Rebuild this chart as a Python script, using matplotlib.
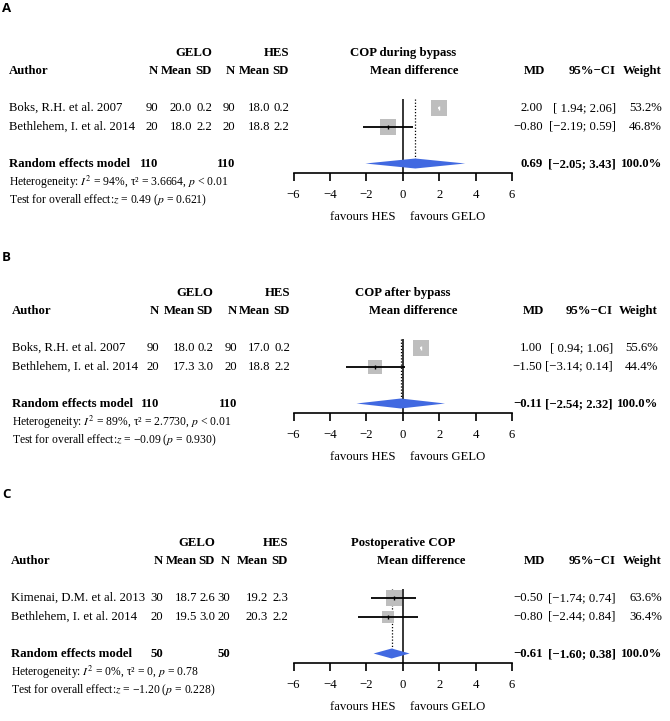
import matplotlib
matplotlib.use('Agg')
import matplotlib.pyplot as plt
import numpy as np

plt.rcParams['font.family'] = ['Liberation Serif', 'DejaVu Serif']
plt.rcParams['mathtext.fontset'] = 'stix'

W, H = 670, 721

# ---- panel A: COP during bypass
authors_a = ['Boks, R.H. et al. 2007', 'Bethlehem, I. et al. 2014']
gelo_n_a = [90, 20]
gelo_mean_a = [20.0, 18.0]
gelo_sd_a = [0.2, 2.2]
hes_n_a = [90, 20]
hes_mean_a = [18.0, 18.8]
hes_sd_a = [0.2, 2.2]
md_a = [2.00, -0.80]
lo_a = [1.94, -2.19]
hi_a = [2.06, 0.59]
weight_a = [53.2, 46.8]
pooled_a = [0.69, -2.05, 3.43]
totals_a = [110, 110]
het_a = r'Heterogeneity: $I^2$ = 94%, τ² = 3.6664, $p$ < 0.01'
test_a = r'Test for overall effect:$z$ = 0.49 ($p$ = 0.621)'

# ---- panel B: COP after bypass
authors_b = ['Boks, R.H. et al. 2007', 'Bethlehem, I. et al. 2014']
gelo_n_b = [90, 20]
gelo_mean_b = [18.0, 17.3]
gelo_sd_b = [0.2, 3.0]
hes_n_b = [90, 20]
hes_mean_b = [17.0, 18.8]
hes_sd_b = [0.2, 2.2]
md_b = [1.00, -1.50]
lo_b = [0.94, -3.14]
hi_b = [1.06, 0.14]
weight_b = [55.6, 44.4]
pooled_b = [-0.11, -2.54, 2.32]
totals_b = [110, 110]
het_b = r'Heterogeneity: $I^2$ = 89%, τ² = 2.7730, $p$ < 0.01'
test_b = r'Test for overall effect:$z$ = −0.09 ($p$ = 0.930)'

# ---- panel C: postoperative COP
authors_c = ['Kimenai, D.M. et al. 2013', 'Bethlehem, I. et al. 2014']
gelo_n_c = [30, 20]
gelo_mean_c = [18.7, 19.5]
gelo_sd_c = [2.6, 3.0]
hes_n_c = [30, 20]
hes_mean_c = [19.2, 20.3]
hes_sd_c = [2.3, 2.2]
md_c = [-0.50, -0.80]
lo_c = [-1.74, -2.44]
hi_c = [0.74, 0.84]
weight_c = [63.6, 36.4]
pooled_c = [-0.61, -1.60, 0.38]
totals_c = [50, 50]
het_c = r'Heterogeneity: $I^2$ = 0%, τ² = 0, $p$ = 0.78'
test_c = r'Test for overall effect:$z$ = −1.20 ($p$ = 0.228)'

titles = ['COP during bypass', 'COP after bypass', 'Postoperative COP']
labels = ['A', 'B', 'C']
xticks = [-6, -4, -2, 0, 2, 4, 6]

panels = [
    dict(authors=authors_a, gn=gelo_n_a, gm=gelo_mean_a, gs=gelo_sd_a, hn=hes_n_a, hm=hes_mean_a, hs=hes_sd_a,
         md=md_a, lo=lo_a, hi=hi_a, w=weight_a, pooled=pooled_a, tot=totals_a, het=het_a, test=test_a),
    dict(authors=authors_b, gn=gelo_n_b, gm=gelo_mean_b, gs=gelo_sd_b, hn=hes_n_b, hm=hes_mean_b, hs=hes_sd_b,
         md=md_b, lo=lo_b, hi=hi_b, w=weight_b, pooled=pooled_b, tot=totals_b, het=het_b, test=test_b),
    dict(authors=authors_c, gn=gelo_n_c, gm=gelo_mean_c, gs=gelo_sd_c, hn=hes_n_c, hm=hes_mean_c, hs=hes_sd_c,
         md=md_c, lo=lo_c, hi=hi_c, w=weight_c, pooled=pooled_c, tot=totals_c, het=het_c, test=test_c),
]

# layout (pixels)
dy = [0, 240, 490]
label_y = [8, 257, 495]
left_cols = [
    [9, 158, 192, 212, 235, 270, 289],
    [12, 159, 195, 213, 237, 270, 290],
    [11, 163, 197, 215, 230, 268, 288],
]
right_cols = [
    [543, 616, 662],
    [542, 613, 658],
    [543, 616, 662],
]
mdlab_x = [414, 413, 421]

FS = 9.2
FS_SMALL = 8.4
SQ_GRAY = '#bebebe'
DIAMOND = '#4169e1'


def fx(x):
    return x / W


def fy(y):
    return 1 - y / H


def neg(s):
    return s.replace('-', '\u2212')


def put(x, y, s, ha='left', bold=False, size=FS, **kw):
    fig.text(fx(x), fy(y), s, ha=ha, va='center', fontsize=size,
             fontweight='bold' if bold else 'normal', **kw)


fig = plt.figure(figsize=(6.7, 7.21), dpi=100)

for k, p in enumerate(panels):
    o = dy[k]
    c = left_cols[k]
    r = right_cols[k]

    fig.text(fx(2), fy(label_y[k]), labels[k], ha='left', va='center', fontsize=9.5,
             fontweight='bold', family=['Open Sans', 'DejaVu Sans'])

    # left table headers
    put(c[3], 53 + o, 'GELO', ha='right', bold=True)
    put(c[6], 53 + o, 'HES', ha='right', bold=True)
    put(c[0], 71 + o, 'Author', bold=True)
    for xi, t in zip(c[1:], ['N', 'Mean', 'SD', 'N', 'Mean', 'SD']):
        put(xi, 71 + o, t, ha='right', bold=True)

    # right headers
    put(403, 53 + o, titles[k], ha='center', bold=True)
    put(mdlab_x[k], 71 + o, 'Mean difference', ha='center', bold=True)
    put(r[0] + 2, 71 + o, 'MD', ha='right', bold=True)
    put(r[1], 71 + o, '95%\u2212CI', ha='right', bold=True)
    put(r[2], 71 + o, 'Weight', ha='right', bold=True)

    # study rows
    for i in range(len(p['authors'])):
        y = 108 + i * 18.5 + o
        put(c[0], y, p['authors'][i])
        vals = [str(p['gn'][i]), f"{p['gm'][i]:.1f}", f"{p['gs'][i]:.1f}",
                str(p['hn'][i]), f"{p['hm'][i]:.1f}", f"{p['hs'][i]:.1f}"]
        for xi, t in zip(c[1:], vals):
            put(xi, y, t, ha='right')
        put(r[0], y, neg(f"{p['md'][i]:.2f}"), ha='right')
        put(r[1], y, neg(f"[{p['lo'][i]:5.2f}; {p['hi'][i]:.2f}]"), ha='right')
        put(r[2], y, f"{p['w'][i]:.1f}%", ha='right')

    # pooled row
    y = 164 + o
    put(c[0], y, 'Random effects model', bold=True)
    put(c[1], y, str(p['tot'][0]), ha='right', bold=True)
    put(c[4], y, str(p['tot'][1]), ha='right', bold=True)
    est, plo, phi = p['pooled']
    put(r[0], y, neg(f"{est:.2f}"), ha='right', bold=True)
    put(r[1], y, neg(f"[{plo:.2f}; {phi:.2f}]"), ha='right', bold=True)
    put(r[2], y, '100.0%', ha='right', bold=True)
    put(c[0], 182 + o, p['het'], size=FS_SMALL)
    put(c[0], 200 + o, p['test'], size=FS_SMALL)

    # forest axes: rows 1,2 studies, row 4 pooled, axis at 4.5
    top_px = 108 - 0.5 * 18.5 + o
    bot_px = 108 + 3.5 * 18.5 + o
    ax = fig.add_axes([fx(293.5), fy(bot_px), (512 - 293.5) / W, (bot_px - top_px) / H])
    ax.set_xlim(-6, 6)
    ax.set_ylim(4.5, 0.5)
    ax.patch.set_alpha(0)
    for s in ['top', 'right', 'left']:
        ax.spines[s].set_visible(False)
    ax.spines['bottom'].set_linewidth(1.2)
    ax.set_yticks([])
    ax.set_xticks(xticks)
    ax.tick_params(axis='x', length=5.5, width=1.2, pad=6.5, labelsize=FS)

    ax.vlines(0, 0.5, 4.5, color='black', lw=1.1, zorder=2)
    h = 0.27
    ax.vlines(est, 0.5, 4 - h, color='black', lw=0.9, linestyles=(0, (1, 1.5)), zorder=2)

    ppu = (512 - 293.5) / 12.0
    wmax = max(p['w'])
    for i in range(len(p['md'])):
        row = i + 1
        s = 133 * p['w'][i] / wmax
        half = np.sqrt(s) * 100 / 72 / 2 / ppu
        ax.scatter([p['md'][i]], [row], s=s, marker='s', color=SQ_GRAY, lw=0, zorder=3)
        inside = (p['md'][i] - p['lo'][i] < half) and (p['hi'][i] - p['md'][i] < half)
        col = 'white' if inside else 'black'
        ax.hlines(row, p['lo'][i], p['hi'][i], color=col, lw=1.3, zorder=4)
        ax.scatter([p['md'][i]], [row], s=10, marker='|', color=col, lw=1.0, zorder=4)

    ax.fill([plo, est, phi, est], [4, 4 - h, 4, 4 + h], color=DIAMOND, lw=0, zorder=3)

    put(395, 217 + o, 'favours HES', ha='right')
    put(410, 217 + o, 'favours GELO', ha='left')

fig.savefig('out.png', dpi=100)
